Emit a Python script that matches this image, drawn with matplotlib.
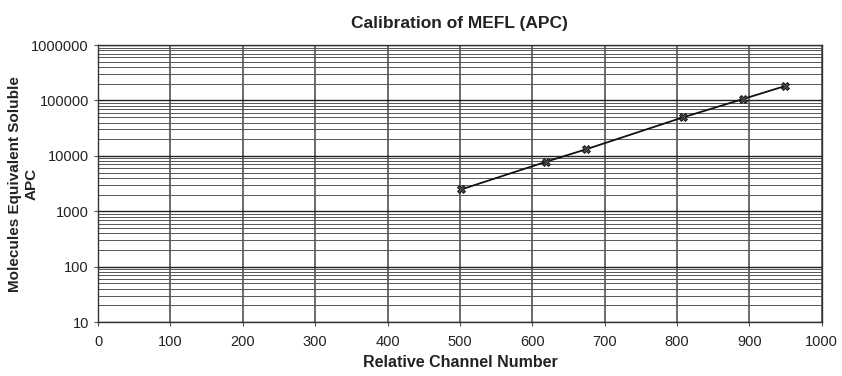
import numpy as np
import matplotlib
matplotlib.use("Agg")
import matplotlib.pyplot as plt
from matplotlib.ticker import LogLocator, FixedLocator, FuncFormatter, NullFormatter

# calibration points
channel = [502, 619, 674, 808, 891, 949]
mesf = [2480, 7830, 13100, 49500, 106000, 182000]

x_ticks = [0, 100, 200, 300, 400, 500, 600, 700, 800, 900, 1000]
y_ticks = [10, 100, 1000, 10000, 100000, 1000000]

plt.rcParams['font.family'] = ['Liberation Sans', 'DejaVu Sans']

fig = plt.figure(figsize=(8.42, 3.76), dpi=100)
ax = fig.add_axes([0.1164, 0.1436, 0.8596, 0.7364])

ax.set_yscale('log')
ax.set_xlim(0, 1000)
ax.set_ylim(10, 1000000)

ax.xaxis.set_major_locator(FixedLocator(x_ticks))
ax.yaxis.set_major_locator(FixedLocator(y_ticks))
ax.yaxis.set_major_formatter(FuncFormatter(lambda v, p: f"{int(round(v))}"))
ax.yaxis.set_minor_locator(LogLocator(base=10, subs=np.arange(2, 10)))
ax.yaxis.set_minor_formatter(NullFormatter())

ax.grid(True, which='major', axis='x', color='#444444', linewidth=1.1)
ax.grid(True, which='major', axis='y', color='#222222', linewidth=1.0)
ax.grid(True, which='minor', axis='y', color='#555555', linewidth=0.7)
ax.set_axisbelow(True)

ax.plot(channel, mesf, color='#111111', linewidth=1.3, marker='X',
        markersize=6, markerfacecolor='#444444', markeredgecolor='#111111',
        markeredgewidth=0.6, zorder=3)

for s in ax.spines.values():
    s.set_color('#333333')
    s.set_linewidth(1.0)

ax.tick_params(axis='both', which='major', direction='out', length=3,
               color='#555555', labelsize=10.5, labelcolor='#222222')
ax.tick_params(axis='y', which='minor', length=0)
ax.tick_params(axis='x', pad=6)

ax.set_title('Calibration of MEFL (APC)', fontsize=12.5, fontweight='bold',
             color='#222222', pad=12)
ax.set_xlabel('Relative Channel Number', fontsize=11.5, fontweight='bold',
              color='#222222', labelpad=5)
ax.set_ylabel('Molecules Equivalent Soluble\nAPC', fontsize=11,
              fontweight='bold', color='#222222', linespacing=1.2)
ax.yaxis.set_label_coords(-0.082, 0.5)

fig.savefig('out.png', dpi=100)
